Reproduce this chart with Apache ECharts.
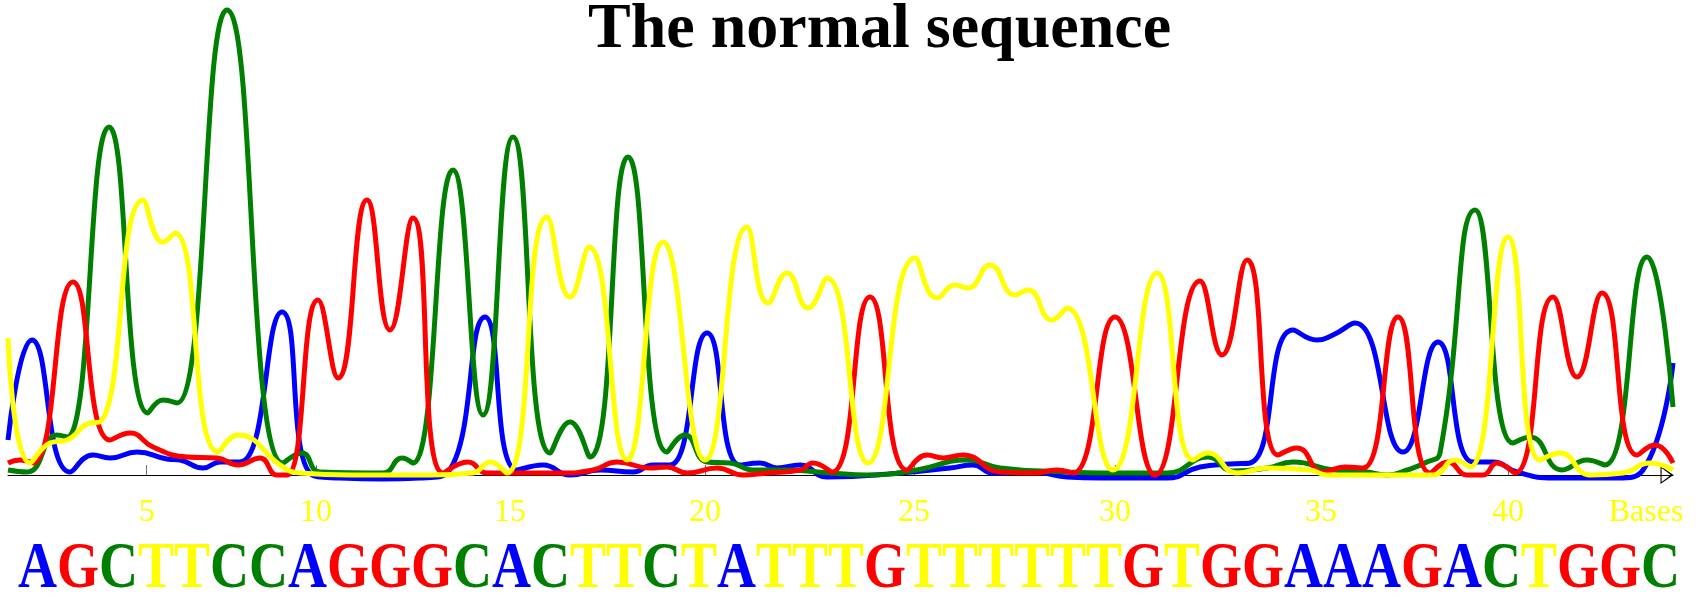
<!DOCTYPE html>
<html><head><meta charset="utf-8">
<script src="https://cdn.jsdelivr.net/npm/echarts@6/dist/echarts.min.js"></script>
<style>html,body{margin:0;padding:0;background:#fff}#c{width:1702px;height:597px}</style>
</head><body><div id="c"></div>
<script>
// ---------- data ----------
const chartTitle = 'The normal sequence';
const bases = 'AGCTTCCAGGGCACTTCTATTTGTTTTTTGTGGAAAGACTGGC'.split('');
// base-call tick positions (scan units) and their labels
const tickPositions = [146.7, 316, 510, 705, 914, 1115, 1321, 1508];
const tickLabels = ['5', '10', '15', '20', '25', '30', '35', '40'];
const axisTitle = 'Bases';
const axisTitlePosition = 1646;
// trace intensities: [scan, signal]
const traceA = [[8,35],[32,135],[70,3],[93,20],[110,17],[137,23],[167,16],[180,15],[203,7],[220,13],[240,13],[282,163],[312,0],[340,-3],[383,-4],[420,-3],[447,2],[485,158],[517,5],[543,10],[570,0],[600,5],[633,3],[653,10],[670,10],[707,142],[740,10],[760,12],[777,7],[800,10],[827,-2],[900,2],[950,7],[973,10],[993,2],[1033,3],[1067,-2],[1100,-3],[1167,-3],[1200,8],[1230,11],[1250,12],[1293,145],[1317,135],[1333,140],[1355,152],[1403,23],[1438,133],[1473,13],[1493,13],[1517,3],[1553,-3],[1617,-3],[1643,5],[1673,112]];
const traceC = [[8,5],[27,3],[57,40],[67,38],[109,348],[148,62],[163,75],[177,72],[227,465],[283,12],[302,22],[320,3],[383,2],[402,17],[413,12],[453,305],[483,60],[513,338],[550,22],[570,53],[590,18],[628,318],[667,23],[685,40],[707,13],[730,12],[753,5],[783,5],[830,2],[867,0],[917,5],[967,15],[1000,7],[1067,3],[1100,2],[1167,2],[1208,18],[1233,4],[1267,7],[1293,13],[1333,5],[1367,3],[1387,0],[1407,5],[1427,13],[1440,22],[1475,265],[1513,32],[1530,38],[1562,5],[1587,15],[1605,10],[1647,218],[1673,68]];
const traceG = [[8,12],[20,15],[33,12],[73,193],[110,35],[130,42],[153,28],[187,18],[217,17],[238,10],[260,17],[277,0],[287,0],[318,175],[338,97],[367,275],[390,145],[413,257],[443,2],[468,13],[487,2],[533,2],[560,2],[593,5],[617,13],[650,7],[667,8],[687,2],[717,7],[743,0],[767,2],[800,5],[813,12],[832,3],[870,178],[907,5],[927,20],[943,17],[963,20],[1000,3],[1033,2],[1057,5],[1073,2],[1115,158],[1155,0],[1200,194],[1222,120],[1247,215],[1278,20],[1297,27],[1323,3],[1345,8],[1363,7],[1398,158],[1430,2],[1448,13],[1467,0],[1483,0],[1497,12],[1515,2],[1553,178],[1577,98],[1602,182],[1637,20],[1655,30],[1673,12]];
const traceT = [[8,137],[30,12],[50,32],[67,35],[90,52],[100,53],[143,275],[163,233],[175,242],[218,23],[238,40],[283,8],[300,2],[350,0],[430,0],[473,2],[490,13],[507,2],[547,258],[570,178],[589,228],[627,15],[663,233],[705,15],[747,248],[768,172],[787,202],[808,167],[827,197],[868,12],[915,217],[937,177],[955,190],[968,187],[990,210],[1015,180],[1028,185],[1052,155],[1067,167],[1113,5],[1157,202],[1193,15],[1208,22],[1237,2],[1267,7],[1310,5],[1327,0],[1433,0],[1455,15],[1470,8],[1508,238],[1540,15],[1560,22],[1590,0],[1623,2],[1650,12],[1673,5]];

// ---------- styling ----------
const baseColors = { A: '#0000ff', C: '#008000', G: '#ff0000', T: '#ffff00' };
const serif = '"Liberation Serif", "Times New Roman", serif';

const labelValues = tickPositions.concat([axisTitlePosition]);
const labelTexts = tickLabels.concat([axisTitle]);
function labelFor(v) {
  for (let i = 0; i < labelValues.length; i++) {
    if (Math.abs(labelValues[i] - v) < 0.01) return labelTexts[i];
  }
  return '';
}

const rich = {};
Object.keys(baseColors).forEach(function (b) {
  rich[b] = { fill: baseColors[b], fontSize: 66, fontFamily: serif, fontWeight: 'bold' };
});
const seqText = bases.map(function (b) { return '{' + b + '|' + b + '}'; }).join('');

function trace(name, data, color) {
  return {
    name: name, type: 'line', data: data, smooth: 0.5, symbol: 'none',
    lineStyle: { color: color, width: 5 }, animation: false, silent: true
  };
}

const chart = echarts.init(document.getElementById('c'), null, { renderer: 'canvas' });
chart.setOption({
  backgroundColor: '#ffffff',
  animation: false,
  title: {
    text: chartTitle, left: 588, top: -2, padding: 0,
    textStyle: { fontFamily: serif, fontWeight: 'bold', fontSize: 64, color: '#000000' }
  },
  grid: { left: 8, right: 29, top: 0, bottom: 107, containLabel: false },
  xAxis: {
    type: 'value', min: 8, max: 1673,
    splitLine: { show: false },
    axisLine: {
      onZero: true,
      lineStyle: { color: '#000000', width: 1 },
      symbol: ['none', 'path://M9,0 L18,13 L0,13 Z M9,2.6 L1.9,11.9 L16.1,11.9 Z'],
      symbolSize: [18, 13], symbolOffset: [0, -6]
    },
    axisTick: {
      show: true, inside: true, length: 10,
      customValues: tickPositions,
      lineStyle: { color: '#707070', width: 1 }
    },
    axisLabel: {
      show: true, margin: 7,
      customValues: labelValues,
      formatter: labelFor,
      color: '#ffff00', fontFamily: serif, fontSize: 32
    }
  },
  yAxis: { type: 'value', min: -15, max: 475, show: false, splitLine: { show: false } },
  graphic: [{
    type: 'text', x: 18, y: 570, scaleX: 0.818, silent: true,
    style: { text: seqText, rich: rich, align: 'left', verticalAlign: 'middle',
             font: 'bold 66px ' + serif }
  }],
  series: [
    trace('A', traceA, baseColors.A),
    trace('C', traceC, baseColors.C),
    trace('G', traceG, baseColors.G),
    trace('T', traceT, baseColors.T)
  ]
});
</script>
</body></html>
